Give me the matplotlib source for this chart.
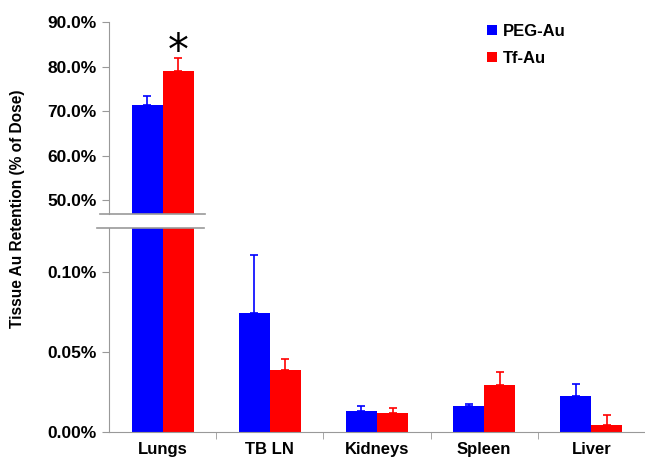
import numpy as np
import matplotlib
matplotlib.use("Agg")
import matplotlib.pyplot as plt
from matplotlib.lines import Line2D

plt.rcParams['font.family'] = ['Liberation Sans', 'DejaVu Sans']
plt.rcParams['font.weight'] = 'bold'

organs = ["Lungs", "TB LN", "Kidneys", "Spleen", "Liver"]
# % of dose
peg = [71.3, 0.0742, 0.0133, 0.0163, 0.0225]
peg_err = [2.1, 0.0364, 0.0027, 0.0014, 0.0077]
tf = [79.1, 0.0388, 0.0117, 0.0296, 0.0044]
tf_err = [2.8, 0.0070, 0.0033, 0.0081, 0.0062]

top_ticks = [50, 60, 70, 80, 90]
bot_ticks = [0.0, 0.05, 0.10]

grey = "#999999"
w = 0.29
x = np.arange(len(organs))

fig = plt.figure(figsize=(6.45, 4.62), dpi=100)
ax_top = fig.add_axes([0.169, 0.537, 0.831, 0.415])
ax_bot = fig.add_axes([0.169, 0.065, 0.831, 0.441])

for ax in (ax_top, ax_bot):
    ax.bar(x - w / 2, peg, w, color="#0000FF", label="PEG-Au")
    ax.bar(x + w / 2, tf, w, color="#FF0000", label="Tf-Au")
    ax.errorbar(x - w / 2, peg, yerr=[np.zeros(len(peg)), peg_err], fmt="none",
                ecolor="#0000FF", elinewidth=1.2, capsize=3, capthick=1.2)
    ax.errorbar(x + w / 2, tf, yerr=[np.zeros(len(tf)), tf_err], fmt="none",
                ecolor="#FF0000", elinewidth=1.2, capsize=3, capthick=1.2)
    ax.set_xlim(-0.5, 4.5)
    for s in ("top", "right"):
        ax.spines[s].set_visible(False)
    ax.spines["left"].set_color(grey)
    ax.spines["bottom"].set_color(grey)
    ax.tick_params(axis="y", colors=grey, length=5, direction="out", labelsize=12.5,
                   labelcolor="black", pad=4)

ax_top.set_ylim(46.9, 90)
ax_top.set_yticks(top_ticks)
ax_top.set_yticklabels(["%.1f%%" % v for v in top_ticks])
ax_top.spines["bottom"].set_visible(False)
ax_top.set_xticks([])
ax_top.text(w / 2, 83.3, "*", ha="center", va="center", fontsize=30, fontweight="normal",
            family="DejaVu Sans")

ax_bot.set_ylim(0, 0.1275)
ax_bot.set_yticks(bot_ticks)
ax_bot.set_yticklabels(["%.2f%%" % v for v in bot_ticks])
ax_bot.spines["top"].set_visible(False)
ax_bot.set_xticks(x)
ax_bot.set_xticklabels(organs, fontsize=12)
ax_bot.tick_params(axis="x", which="major", length=0, pad=7)
ax_bot.set_xticks(x[:-1] + 0.5, minor=True)
ax_bot.tick_params(axis="x", which="minor", length=5, color=grey)

# axis break lines
fig.add_artist(Line2D([100 / 645, 205 / 645], [1 - 214 / 462, 1 - 214 / 462], color=grey, lw=1.2))
fig.add_artist(Line2D([97 / 645, 204 / 645], [1 - 228 / 462, 1 - 228 / 462], color=grey, lw=1.2))

fig.text(18 / 645, 1 - 209 / 462, "Tissue Au Retention (% of Dose)", rotation=90,
         ha="center", va="center", fontsize=11.2)

h, l = ax_top.get_legend_handles_labels()
fig.legend(h, l, loc="upper left", bbox_to_anchor=(472 / 645, 1 - 9 / 462), frameon=False,
           handlelength=0.6, handleheight=0.6, handletextpad=0.35, labelspacing=0.7,
           fontsize=12)

fig.savefig("out.png", dpi=100)
